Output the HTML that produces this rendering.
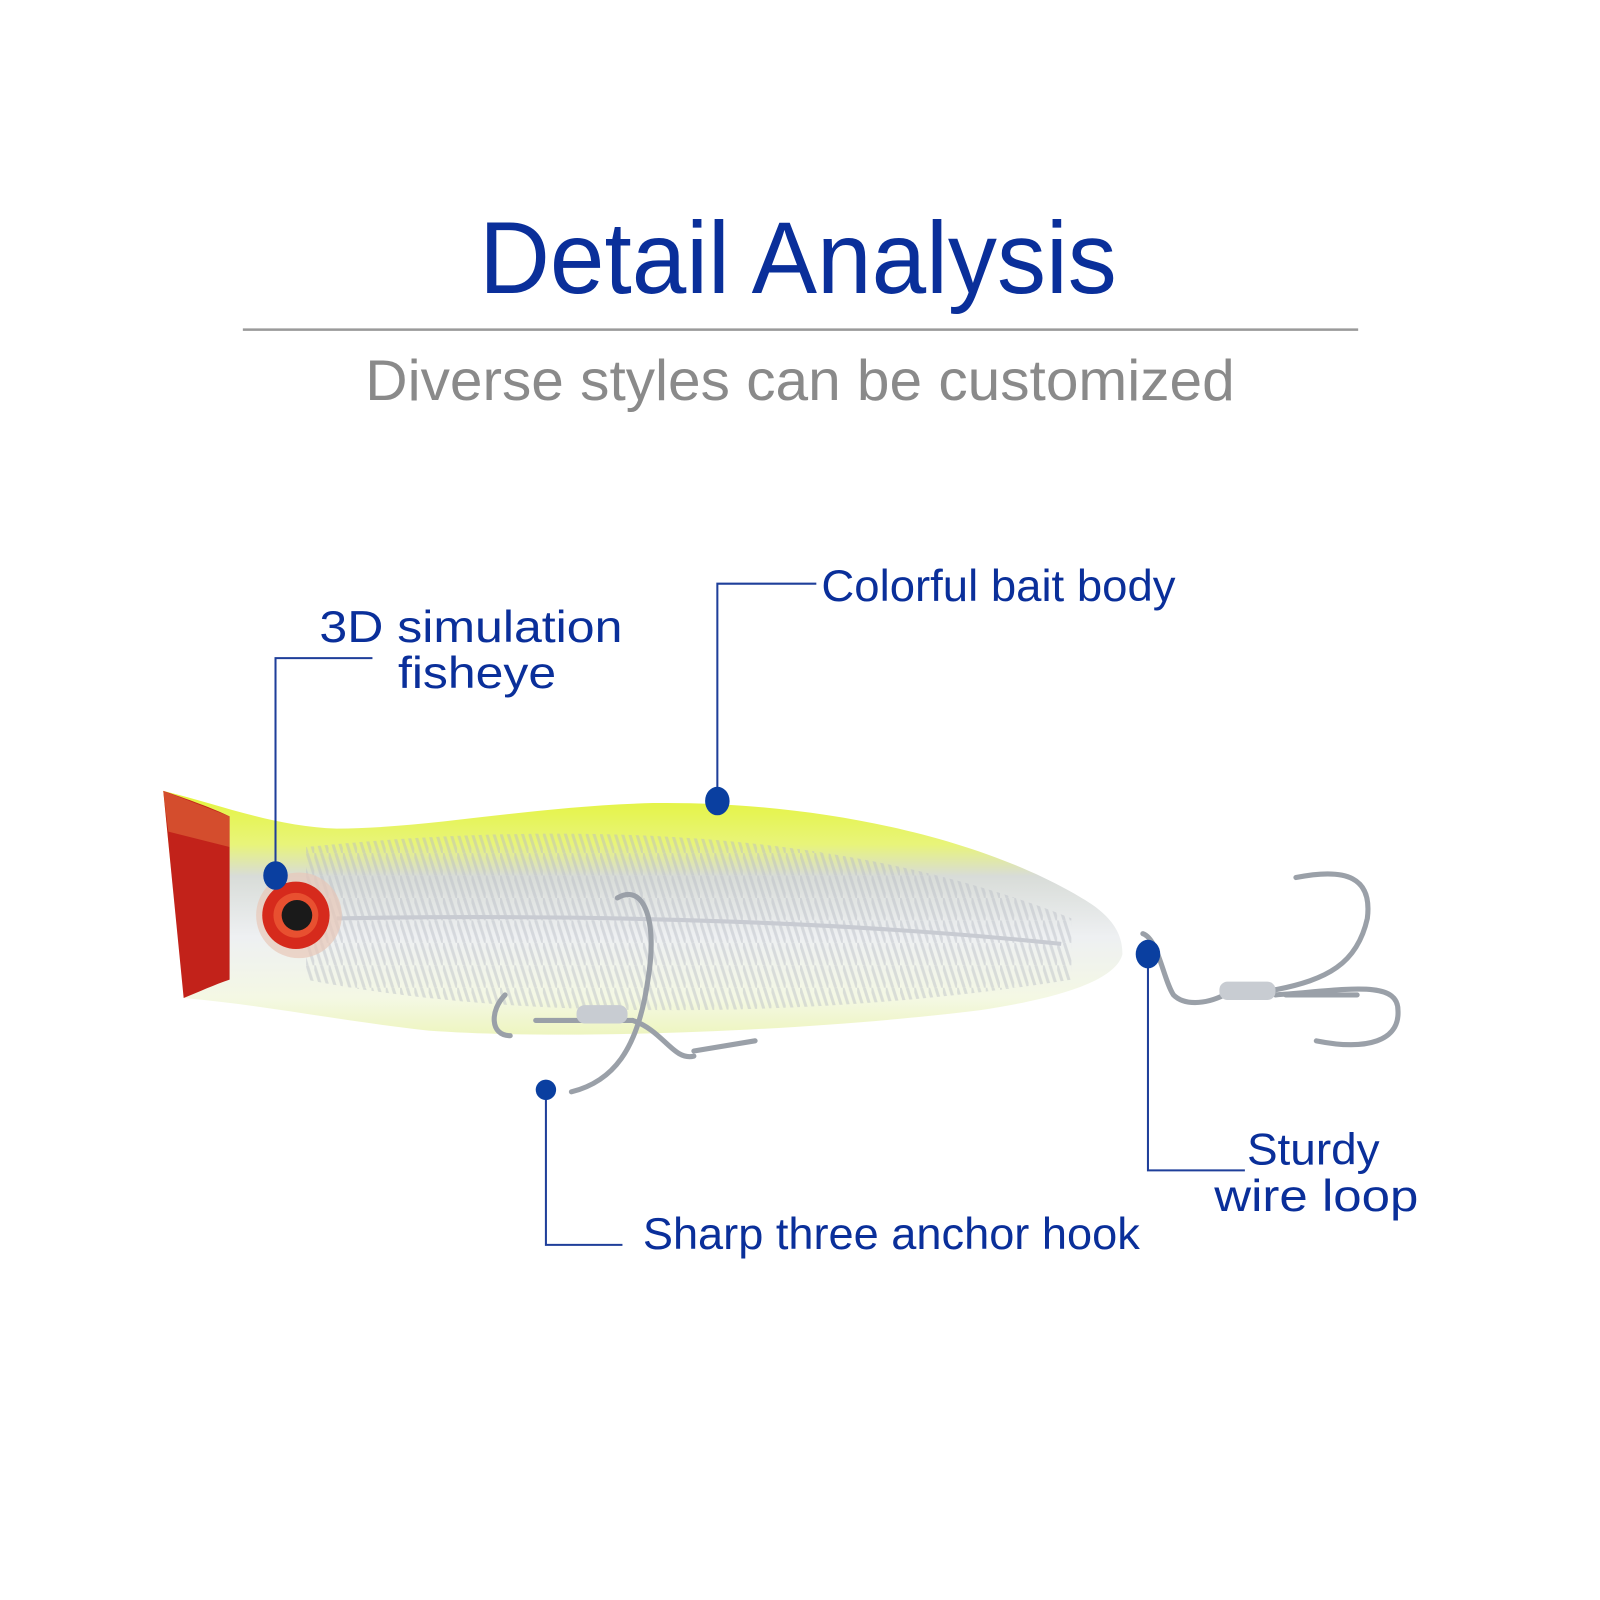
<!DOCTYPE html>
<html><head><style>
html,body{margin:0;padding:0;background:#fff;}
svg{display:block}
</style></head><body>
<svg width="1600" height="1600" viewBox="0 0 1568 1568" xmlns="http://www.w3.org/2000/svg">
<defs>
<linearGradient id="bg" x1="0" y1="0" x2="0" y2="1">
<stop offset="0" stop-color="#e4f43a"/>
<stop offset="0.22" stop-color="#e8f47a"/>
<stop offset="0.35" stop-color="#d8dcd8"/>
<stop offset="0.6" stop-color="#eef0f2"/>
<stop offset="0.85" stop-color="#f4f8e4"/>
<stop offset="1" stop-color="#eef5c0"/>
</linearGradient>
<pattern id="sc" width="14" height="22" patternUnits="userSpaceOnUse">
<path d="M0 0 L7 22 M7 0 L14 22" stroke="#b8bcc4" stroke-width="3" opacity="0.45"/>
</pattern>
</defs>
<text x="782" y="287" text-anchor="middle" font-family="Liberation Sans, sans-serif" font-size="100" fill="#0a2f9a" textLength="625" lengthAdjust="spacingAndGlyphs">Detail Analysis</text>
<line x1="238" y1="323" x2="1331" y2="323" stroke="#9a9a9a" stroke-width="2.5"/>
<text x="784" y="392" text-anchor="middle" font-family="Liberation Sans, sans-serif" font-size="56" fill="#8a8a8a" textLength="852" lengthAdjust="spacingAndGlyphs">Diverse styles can be customized</text>

<!-- lure body -->
<path d="M160 775 C220 790 270 810 330 812 C420 812 520 790 640 787 C800 785 960 820 1060 880 C1095 900 1100 920 1100 935 C1095 955 1060 975 960 990 C800 1010 560 1020 420 1010 C330 1000 260 985 180 978 Z" fill="url(#bg)"/>
<path d="M300 830 C500 810 800 800 1050 900 L1050 960 C800 1000 500 1000 300 960 Z" fill="url(#sc)"/>
<path d="M330 900 C600 895 850 905 1040 925" stroke="#c8cbd2" stroke-width="4" fill="none"/>
<!-- red head -->
<path d="M160 775 C190 785 215 795 225 800 L225 960 C210 965 195 972 180 978 Z" fill="#c2221a"/>
<path d="M160 775 L225 800 L225 830 L165 815 Z" fill="#e06a3a" opacity="0.6"/>
<!-- eye -->
<circle cx="293" cy="897" r="42" fill="#e8c8b8" opacity="0.7"/>
<circle cx="290" cy="897" r="33" fill="#d62a1c"/>
<circle cx="290" cy="897" r="22" fill="#e85030"/>
<circle cx="291" cy="897" r="15" fill="#1a1a1a"/>
<!-- hooks -->
<g fill="none" stroke="#9aa0a8" stroke-width="5" stroke-linecap="round">
<path d="M605 880 C630 865 645 900 635 960 C625 1030 600 1060 560 1070"/>
<path d="M495 975 C480 990 480 1015 500 1015"/>
<path d="M525 1000 L620 1000"/>
<path d="M620 1000 C650 1010 660 1040 680 1035"/>
<path d="M680 1030 L740 1020"/>
<path d="M1120 915 C1135 920 1140 960 1150 975 C1160 985 1180 985 1200 975 L1250 970"/>
<path d="M1250 970 C1300 960 1330 945 1340 900 C1345 860 1320 850 1270 860"/>
<path d="M1250 975 C1320 970 1370 960 1370 990 C1372 1020 1340 1030 1290 1020"/>
<path d="M1260 975 L1330 975"/>
</g>
<rect x="565" y="985" width="50" height="18" rx="8" fill="#c8ccd2"/>
<rect x="1195" y="962" width="55" height="18" rx="8" fill="#c8ccd2"/>

<!-- connectors -->
<g stroke="#1f3f9a" stroke-width="2" fill="none">
<path d="M270 858 V645 H365"/>
<path d="M703 785 V572 H800"/>
<path d="M535 1068 V1220 H610"/>
<path d="M1125 935 V1147 H1220"/>
</g>
<g fill="#0a3fa0">
<ellipse cx="270" cy="858" rx="12" ry="14"/>
<ellipse cx="703" cy="785" rx="12" ry="14"/>
<circle cx="535" cy="1068" r="10"/>
<ellipse cx="1125" cy="935" rx="12" ry="14"/>
</g>
<g font-family="Liberation Sans, sans-serif" font-size="44" fill="#0a2f9a">
<text x="313" y="629" textLength="297" lengthAdjust="spacingAndGlyphs">3D simulation</text>
<text x="390" y="674" textLength="155" lengthAdjust="spacingAndGlyphs">fisheye</text>
<text x="805" y="589" textLength="347" lengthAdjust="spacingAndGlyphs">Colorful bait body</text>
<text x="630" y="1224" textLength="487" lengthAdjust="spacingAndGlyphs">Sharp three anchor hook</text>
<text x="1222" y="1141" textLength="130" lengthAdjust="spacingAndGlyphs">Sturdy</text>
<text x="1190" y="1187" textLength="200" lengthAdjust="spacingAndGlyphs">wire loop</text>
</g>
</svg>
</body></html>
